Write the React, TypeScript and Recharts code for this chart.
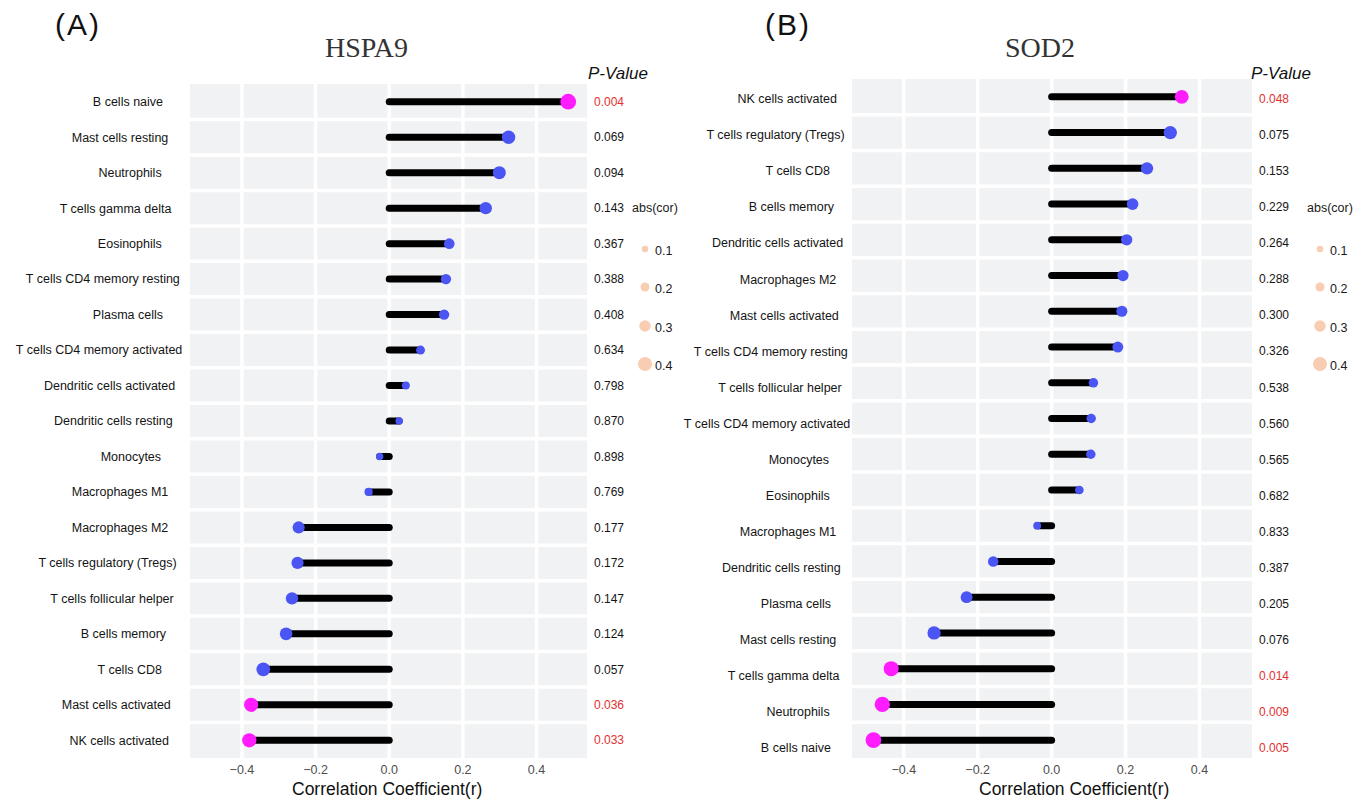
import React from 'react';
import { ComposedChart, Scatter, XAxis, YAxis, CartesianGrid, ReferenceLine } from 'recharts';

// panel A: HSPA9
const HSPA9_CELLS = [
  'B cells naive', 'Mast cells resting', 'Neutrophils', 'T cells gamma delta', 'Eosinophils',
  'T cells CD4 memory resting', 'Plasma cells', 'T cells CD4 memory activated', 'Dendritic cells activated',
  'Dendritic cells resting', 'Monocytes', 'Macrophages M1', 'Macrophages M2', 'T cells regulatory (Tregs)',
  'T cells follicular helper', 'B cells memory', 'T cells CD8', 'Mast cells activated', 'NK cells activated',
];
const HSPA9_R = [
  0.486, 0.324, 0.299, 0.262, 0.163, 0.154, 0.149, 0.085, 0.045, 0.027,
  -0.026, -0.056, -0.246, -0.249, -0.264, -0.280, -0.342, -0.375, -0.380,
];
const HSPA9_P = [
  0.004, 0.069, 0.094, 0.143, 0.367, 0.388, 0.408, 0.634, 0.798, 0.870,
  0.898, 0.769, 0.177, 0.172, 0.147, 0.124, 0.057, 0.036, 0.033,
];

// panel B: SOD2
const SOD2_CELLS = [
  'NK cells activated', 'T cells regulatory (Tregs)', 'T cells CD8', 'B cells memory', 'Dendritic cells activated',
  'Macrophages M2', 'Mast cells activated', 'T cells CD4 memory resting', 'T cells follicular helper',
  'T cells CD4 memory activated', 'Monocytes', 'Eosinophils', 'Macrophages M1', 'Dendritic cells resting',
  'Plasma cells', 'Mast cells resting', 'T cells gamma delta', 'Neutrophils', 'B cells naive',
];
const SOD2_R = [
  0.352, 0.321, 0.258, 0.219, 0.203, 0.193, 0.190, 0.179, 0.113, 0.107,
  0.106, 0.075, -0.039, -0.158, -0.230, -0.318, -0.434, -0.458, -0.482,
];
const SOD2_P = [
  0.048, 0.075, 0.153, 0.229, 0.264, 0.288, 0.300, 0.326, 0.538, 0.560,
  0.565, 0.682, 0.833, 0.387, 0.205, 0.076, 0.014, 0.009, 0.005,
];

const X_TICKS = [-0.4, -0.2, 0, 0.2, 0.4];
const SIZE_BREAKS = [0.1, 0.2, 0.3, 0.4];

const SANS = "'Liberation Sans', Arial, Helvetica, sans-serif";
const SERIF = "'Liberation Serif', 'Times New Roman', serif";
const BLUE = '#4b55f4';
const MAGENTA = '#ff1cff';
const RED_TEXT = '#e2312f';
const PANEL_BG = '#f1f2f4';
const KEY_FILL = '#f9cdb1';

const dotRadius = (v: number) => Math.sqrt(11 + 105 * Math.abs(v));
const keyRadius = (v: number) => 2 + 12.5 * v;

const fmtTick = (v: number) => (v < 0 ? '\u2212' : '') + Math.abs(v).toFixed(1);

let measureCtx: CanvasRenderingContext2D | null = null;
function textWidth(s: string, font: string) {
  if (!measureCtx) measureCtx = document.createElement('canvas').getContext('2d');
  if (!measureCtx) return s.length * 6;
  measureCtx.font = font;
  return measureCtx.measureText(s).width;
}

// row labels sit with hjust ~0.8 around an anchor, like the original figure
const CellTick = (props: any) => {
  const { y, payload, names, anchor } = props;
  const name = names[payload.value];
  if (name === undefined) return null;
  const w = textWidth(name, "12.5px 'Liberation Sans'");
  return (
    <text x={anchor + 0.2 * w} y={y} dy="0.35em" textAnchor="end" fontSize={12.5} fontFamily={SANS} fill="#141414">
      {name}
    </text>
  );
};

const PTick = (props: any) => {
  const { x, y, payload, pvals } = props;
  const p = pvals[payload.value];
  if (p === undefined) return null;
  return (
    <text x={x} y={y} dy="0.35em" textAnchor="start" fontSize={12} fontFamily={SANS} fill={p < 0.05 ? RED_TEXT : '#141414'}>
      {p.toFixed(3)}
    </text>
  );
};

const LollipopHead = (props: any) => {
  const { cx, cy, payload } = props;
  return <circle cx={cx} cy={cy} r={dotRadius(payload.r)} fill={payload.p < 0.05 ? MAGENTA : BLUE} />;
};

interface PanelProps {
  cells: string[];
  r: number[];
  p: number[];
  domain: [number, number];
  labelDomain?: [number, number];
  plotTop: number;
  plotBottom: number;
  yAxisWidth: number;
  chartWidth: number;
  labelAnchor: number;
}

function Panel({ cells, r, p, domain, labelDomain, plotTop, plotBottom, yAxisWidth, chartWidth, labelAnchor }: PanelProps) {
  const rows = cells.map((name, i) => ({ idx: i, name, r: r[i], p: p[i] }));
  const yTicks = rows.map((d) => d.idx);
  const rowLines = rows.slice(1).map((d) => d.idx - 0.5);
  const yDomain: [number, number] = [-0.5, cells.length - 0.5];
  // the text columns of panel B are spaced a little wider than its rows
  const textDomain = labelDomain || yDomain;

  return (
    <ComposedChart width={chartWidth} height={801} margin={{ top: plotTop, right: 0, bottom: 0, left: 0 }}>
      <CartesianGrid
        yAxisId="cells"
        fill={PANEL_BG}
        fillOpacity={1}
        stroke="#ffffff"
        strokeWidth={3.5}
        horizontalValues={rowLines}
        verticalValues={X_TICKS}
      />
      <XAxis
        type="number"
        dataKey="r"
        domain={domain}
        ticks={X_TICKS}
        allowDataOverflow
        axisLine={false}
        tickLine={false}
        tickSize={0}
        tickMargin={7}
        height={801 - plotBottom}
        tick={{ fill: '#4d4d4d', fontSize: 12.5, fontFamily: SANS }}
        tickFormatter={fmtTick}
      />
      <YAxis yAxisId="cells" type="number" dataKey="idx" domain={yDomain} reversed allowDataOverflow hide />
      <YAxis
        yAxisId="labels"
        type="number"
        domain={textDomain}
        reversed
        ticks={yTicks}
        interval={0}
        width={yAxisWidth}
        axisLine={false}
        tickLine={false}
        allowDataOverflow
        tick={<CellTick names={cells} anchor={labelAnchor} />}
      />
      <YAxis
        yAxisId="pval"
        orientation="right"
        type="number"
        domain={textDomain}
        reversed
        ticks={yTicks}
        interval={0}
        width={50}
        axisLine={false}
        tickLine={false}
        tickSize={0}
        tickMargin={7}
        allowDataOverflow
        tick={<PTick pvals={p} />}
      />
      {rows.map((d) => (
        <ReferenceLine
          key={d.name}
          yAxisId="cells"
          segment={[{ x: 0, y: d.idx }, { x: d.r, y: d.idx }]}
          stroke="#000000"
          strokeWidth={7}
          strokeLinecap="round"
        />
      ))}
      <Scatter yAxisId="cells" data={rows} dataKey="r" shape={LollipopHead} isAnimationActive={false} />
    </ComposedChart>
  );
}

function SizeKey({ left, top }: { left: number; top: number }) {
  return (
    <div style={{ position: 'absolute', left, top, fontFamily: SANS, color: '#1a1a1a' }}>
      <div style={{ position: 'absolute', left: 0, top: 0, fontSize: 12.5, lineHeight: '16px', whiteSpace: 'nowrap' }}>abs(cor)</div>
      {SIZE_BREAKS.map((b, i) => (
        <div key={b} style={{ position: 'absolute', left: 0, top: 42 + i * 38.3, height: 16, width: 60 }}>
          <svg width={26} height={16} style={{ position: 'absolute', left: 0, top: 0 }}>
            <circle cx={13} cy={7} r={keyRadius(b)} fill={KEY_FILL} />
          </svg>
          <span style={{ position: 'absolute', left: 23, top: 1, fontSize: 12.5, lineHeight: '16px' }}>{b.toFixed(1)}</span>
        </div>
      ))}
    </div>
  );
}

const absText = (left: number, top: number, style: React.CSSProperties, text: string) => (
  <div style={{ position: 'absolute', left, top, whiteSpace: 'nowrap', lineHeight: 1, ...style }}>{text}</div>
);

export default function App() {
  return (
    <div style={{ position: 'absolute', left: 0, top: 0, width: 1367, height: 801, background: '#ffffff', overflow: 'hidden' }}>
      <div style={{ position: 'absolute', left: 0, top: 0 }}>
        <Panel
          cells={HSPA9_CELLS}
          r={HSPA9_R}
          p={HSPA9_P}
          domain={[-0.541, 0.537]}
          plotTop={84}
          plotBottom={758}
          yAxisWidth={190}
          chartWidth={637}
          labelAnchor={149}
        />
      </div>
      <div style={{ position: 'absolute', left: 660, top: 0 }}>
        <Panel
          cells={SOD2_CELLS}
          r={SOD2_R}
          p={SOD2_P}
          domain={[-0.54, 0.542]}
          labelDomain={[-0.55, 18.28]}
          plotTop={79}
          plotBottom={758}
          yAxisWidth={192}
          chartWidth={642}
          labelAnchor={157}
        />
      </div>

      {absText(55, 10, { fontFamily: SANS, fontSize: 30, color: '#111', letterSpacing: 2 }, '(A)')}
      {absText(765, 10, { fontFamily: SANS, fontSize: 30, color: '#111', letterSpacing: 2 }, '(B)')}
      {absText(325, 34, { fontFamily: SERIF, fontSize: 28, color: '#333' }, 'HSPA9')}
      {absText(1005, 34, { fontFamily: SERIF, fontSize: 28, color: '#333' }, 'SOD2')}
      {absText(588, 65, { fontFamily: SANS, fontSize: 17, fontStyle: 'italic', color: '#111' }, 'P-Value')}
      {absText(1251, 65, { fontFamily: SANS, fontSize: 17, fontStyle: 'italic', color: '#111' }, 'P-Value')}
      {absText(292, 781, { fontFamily: SANS, fontSize: 17.5, color: '#111' }, 'Correlation Coefficient(r)')}
      {absText(979, 781, { fontFamily: SANS, fontSize: 17.5, color: '#111' }, 'Correlation Coefficient(r)')}

      <SizeKey left={632} top={200} />
      <SizeKey left={1307} top={200} />
    </div>
  );
}
